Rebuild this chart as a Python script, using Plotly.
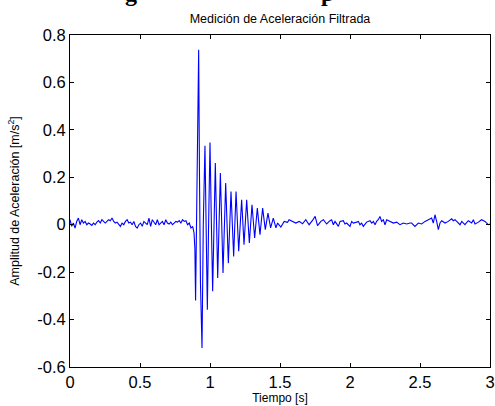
import plotly.graph_objects as go

# ---- data ----
time_pre = [0.000, 0.012, 0.024, 0.036, 0.048, 0.060, 0.072, 0.084, 0.096, 0.108,
            0.120, 0.132, 0.144, 0.156, 0.168, 0.180, 0.192, 0.204, 0.216, 0.228,
            0.240, 0.252, 0.264, 0.276, 0.288, 0.300, 0.312, 0.324, 0.336, 0.348,
            0.360, 0.372, 0.384, 0.396, 0.408, 0.420, 0.432, 0.444, 0.456, 0.468,
            0.480, 0.492, 0.504, 0.516, 0.528, 0.540, 0.552, 0.564, 0.576, 0.588,
            0.600, 0.612, 0.624, 0.636, 0.648, 0.660, 0.672, 0.684, 0.696, 0.708,
            0.720, 0.732, 0.744, 0.756, 0.768, 0.780, 0.792, 0.804, 0.816, 0.828,
            0.840, 0.852, 0.864, 0.876]
accel_pre = [0.021, -0.007, 0.007, -0.014, 0.014, 0.028, 0.000, 0.021, 0.007, 0.014,
             0.000, 0.007, 0.003, -0.003, 0.007, 0.000, 0.011, 0.017, 0.007, 0.021,
             0.014, 0.007, 0.014, 0.021, 0.017, 0.028, 0.014, 0.007, 0.011, 0.003,
             -0.007, 0.007, 0.000, 0.014, 0.021, 0.007, 0.011, 0.000, 0.014, -0.007,
             -0.014, 0.000, 0.007, -0.007, 0.014, 0.007, 0.000, 0.028, -0.007, 0.021,
             0.007, 0.000, 0.021, 0.000, 0.007, 0.014, 0.000, 0.021, 0.007, 0.003,
             0.011, 0.000, 0.007, 0.014, 0.011, 0.017, 0.007, 0.021, 0.014, 0.017,
             0.000, 0.007, -0.014, -0.007]

time_burst = [0.886, 0.892, 0.897, 0.903, 0.912, 0.919, 0.925, 0.932, 0.943, 0.952,
              0.964, 0.972, 0.981, 0.990, 1.000, 1.010, 1.019, 1.038, 1.055, 1.074,
              1.093, 1.112, 1.131, 1.150, 1.169, 1.186, 1.205, 1.226, 1.243, 1.262,
              1.281, 1.300, 1.319, 1.338, 1.357, 1.376, 1.395, 1.414, 1.433, 1.452,
              1.471]
accel_burst = [-0.035, -0.100, -0.320, -0.050, 0.450, 0.738, 0.200, -0.250, -0.520, 0.000,
               0.333, 0.000, -0.359, 0.000, 0.347, 0.000, -0.281, 0.260, -0.225, 0.218,
               -0.204, 0.176, -0.162, 0.140, -0.134, 0.140, -0.112, 0.105, -0.084, 0.105,
               -0.077, 0.084, -0.056, 0.070, -0.042, 0.070, -0.021, 0.049, -0.013, 0.028,
               -0.013]

time_post = [1.483, 1.506, 1.530, 1.554, 1.565, 1.589, 1.613, 1.637, 1.661, 1.684,
             1.708, 1.732, 1.751, 1.768, 1.792, 1.810, 1.833, 1.857, 1.869, 1.881,
             1.893, 1.917, 1.929, 1.952, 1.964, 1.976, 2.000, 2.012, 2.024, 2.048,
             2.060, 2.071, 2.083, 2.095, 2.119, 2.143, 2.155, 2.167, 2.179, 2.190,
             2.202, 2.214, 2.226, 2.238, 2.250, 2.262, 2.286, 2.310, 2.333, 2.357,
             2.381, 2.405, 2.429, 2.440, 2.464, 2.488, 2.512, 2.536, 2.560, 2.583,
             2.595, 2.607, 2.619, 2.631, 2.643, 2.655, 2.679, 2.702, 2.726, 2.738,
             2.750, 2.774, 2.786, 2.798, 2.821, 2.845, 2.869, 2.881, 2.893, 2.917,
             2.940, 2.964, 2.976, 2.988, 3.000]
accel_post = [0.007, -0.010, 0.014, 0.010, 0.021, 0.014, 0.007, 0.014, 0.004, 0.021,
              0.000, 0.018, 0.035, -0.004, 0.014, 0.021, 0.003, 0.017, 0.021, 0.000,
              0.014, -0.007, 0.014, 0.017, 0.003, 0.007, -0.007, 0.014, 0.007, 0.011,
              0.014, 0.000, 0.007, -0.007, 0.011, 0.017, 0.007, 0.014, 0.000, 0.014,
              0.021, 0.035, 0.014, 0.021, 0.000, 0.021, 0.014, 0.007, 0.011, 0.000,
              0.007, 0.003, 0.007, 0.007, -0.007, 0.007, 0.003, 0.014, 0.021, 0.028,
              0.007, 0.042, 0.014, -0.021, 0.007, 0.017, 0.007, 0.014, 0.025, 0.017,
              0.021, 0.007, 0.000, 0.014, 0.000, 0.017, 0.007, 0.021, 0.003, 0.011,
              0.021, 0.014, 0.007, 0.000, 0.003]

x_ticks = [0, 0.5, 1, 1.5, 2, 2.5, 3]
x_tick_labels = ["0", "0.5", "1", "1.5", "2", "2.5", "3"]
y_ticks = [-0.6, -0.4, -0.2, 0, 0.2, 0.4, 0.6, 0.8]
y_tick_labels = ["-0.6", "-0.4", "-0.2", "0", "0.2", "0.4", "0.6", "0.8"]

title_text = "Medición de Aceleración Filtrada"
x_title = "Tiempo [s]"
y_title = "Amplitud de Aceleración [m/s<sup>2</sup>]"

time = time_pre + time_burst + time_post
accel = accel_pre + accel_burst + accel_post

FONT = "Liberation Sans, Arial, sans-serif"
SERIF = "Liberation Serif, Times New Roman, serif"

fig = go.Figure()
fig.add_trace(go.Scatter(x=time, y=accel, mode="lines",
                         line=dict(color="#0000ff", width=1.1),
                         hoverinfo="skip", showlegend=False))

axis_common = dict(showline=True, linecolor="black", linewidth=1, mirror="ticks",
                   ticks="inside", ticklen=4, tickcolor="black", showgrid=False,
                   zeroline=False, automargin=False,
                   tickfont=dict(family=FONT, size=16.5, color="black"))

fig.update_xaxes(range=[0, 3], tickvals=x_ticks, ticktext=x_tick_labels,
                 title=dict(text=x_title, font=dict(family=FONT, size=12, color="black"),
                            standoff=3),
                 **axis_common)
fig.update_yaxes(range=[-0.6, 0.8], tickvals=y_ticks, ticktext=y_tick_labels,
                 title=dict(text=y_title, font=dict(family=FONT, size=12.5, color="black"),
                            standoff=14),
                 **axis_common)

letter_y = 1 + (35 - 8) / 332
fig.update_layout(
    width=495, height=406,
    margin=dict(l=70, r=5, t=35, b=39),
    paper_bgcolor="white", plot_bgcolor="white",
    title=dict(text=title_text, font=dict(family=FONT, size=12.5, color="black"),
               x=(70 + 420 / 2) / 495, xanchor="center", y=1 - 19 / 406, yanchor="middle"),
    annotations=[
        dict(text="<b>g</b>", xref="paper", yref="paper", x=(131 - 70) / 420, y=letter_y,
             xanchor="center", yanchor="bottom", showarrow=False,
             font=dict(family=SERIF, size=24, color="black")),
        dict(text="<b>p</b>", xref="paper", yref="paper", x=(327 - 70) / 420, y=letter_y,
             xanchor="center", yanchor="bottom", showarrow=False,
             font=dict(family=SERIF, size=24, color="black")),
    ],
)

fig.write_html("out.html",
               config={"displayModeBar": False, "staticPlot": True},
               post_script="document.body.style.margin='0';document.body.style.overflow='hidden';")
